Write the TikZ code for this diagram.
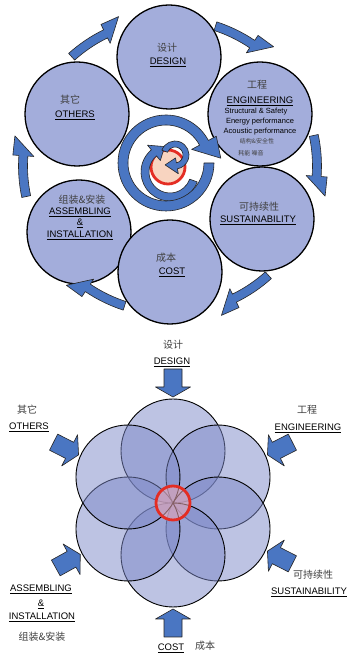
\documentclass[tikz,border=0pt]{standalone}
\usepackage{fontspec}
\setmainfont{Liberation Sans}
\newfontfamily\cjk{Noto Sans CJK SC}
\definecolor{circfill}{RGB}{163,173,219}
\definecolor{arrblue}{RGB}{74,118,194}
\definecolor{flowerfill}{RGB}{125,137,201}
\definecolor{ringred}{RGB}{228,45,35}
\definecolor{peach}{RGB}{248,212,192}
\definecolor{corepink}{RGB}{240,170,180}
\tikzset{
 bigcirc/.style={circle, minimum size=104pt, inner sep=0pt, draw=black, line width=1.3pt, fill=circfill},
 petal/.style={circle, minimum size=104pt, inner sep=0pt, draw=black, line width=0.9pt, fill=flowerfill, fill opacity=0.5},
 arrowshape/.style={fill=arrblue, draw=black!85, line width=0.6pt, line join=round},
 en/.style={font=\fontsize{9.5}{10}\selectfont, inner sep=0pt},
 zh/.style={font=\cjk\fontsize{10}{11}\selectfont, text=black!75, inner sep=0pt},
 smalltxt/.style={font=\fontsize{7.5}{8}\selectfont, inner sep=0pt},
 smallzh/.style={font=\cjk\fontsize{6}{7}\selectfont, text=black!75, inner sep=0pt}
}
% cx cy rc w a1 a2 tipangle tipradius headextra
\newcommand\arcarr[9]{%
\begin{scope}[shift={(#1,#2)}]
\pgfmathsetmacro\arcRo{#3+#4/2}\pgfmathsetmacro\arcRi{#3-#4/2}
\pgfmathsetmacro\arcHo{\arcRo+#9}\pgfmathsetmacro\arcHi{\arcRi-#9}
\path[arrowshape] (#5:\arcRo) arc[start angle=#5, end angle=#6, radius=\arcRo]
  -- (#6:\arcHo) -- (#7:#8) -- (#6:\arcHi) -- (#6:\arcRi)
  arc[start angle=#6, end angle=#5, radius=\arcRi] -- cycle;
\end{scope}}
\begin{document}
\begin{tikzpicture}[x=1pt,y=1pt]
\useasboundingbox (0,0) rectangle (351,657);
\fill[white] (0,0) rectangle (351,657);

% ===== top: cycle =====
\node[bigcirc] (tOthers) at (77,543) {};
\node[bigcirc] (tAssem) at (79,425) {};
\node[bigcirc] (tDesign) at (169,600) {};
\node[bigcirc] (tEng) at (260,543) {};
\node[bigcirc] (tSust) at (262,438) {};
\node[bigcirc] (tCost) at (170,385) {};

% outer curved arrows
\foreach \g in {60,0,-60,-120,180,120}{
  \pgfmathsetmacro\ga{\g+12}\pgfmathsetmacro\gb{\g-4}\pgfmathsetmacro\gt{\g-11}
  \arcarr{170}{491}{147}{9}{\ga}{\gb}{\gt}{158}{6}
}

% central swirl
\node[circle, minimum size=34pt, inner sep=0pt, draw=ringred, line width=2.8pt, fill=peach] (tCore) at (168,490) {};
\arcarr{170}{485}{25}{8}{-20}{-230}{-258}{26}{6}
\arcarr{175}{502}{11}{6}{160}{-80}{-135}{14}{5}
\arcarr{166}{494}{43}{10}{0}{-332}{-355}{55}{9}

% top labels
\node[zh] (tDesignZh) at (167,609) {设计};
\node[en] (tDesignEn) at (168,595) {\underline{DESIGN}};
\node[zh] (tEngZh) at (257,572) {工程};
\node[en] (tEngEn) at (260,556) {\underline{ENGINEERING}};
\node[smalltxt] (tEng1) at (256,545) {Structural \& Safety};
\node[smalltxt] (tEng2) at (260,535) {Energy performance};
\node[smalltxt] (tEng3) at (260,525) {Acoustic performance};
\node[smallzh] (tEng4) at (257,516) {结构\&安全性};
\node[smallzh] (tEng5) at (251,504) {耗能 噪音};
\node[zh] (tSustZh) at (259,450) {可持续性};
\node[en] (tSustEn) at (258,437) {\underline{SUSTAINABILITY}};
\node[zh] (tCostZh) at (166,399) {成本};
\node[en] (tCostEn) at (172,385) {\underline{COST}};
\node[zh] (tAssemZh) at (82,457) {组装\&安装};
\node[en] (tAssemEn1) at (80,445) {\underline{ASSEMBLING}};
\node[en] (tAssemEn2) at (80,434) {\underline{\&}};
\node[en] (tAssemEn3) at (80,422) {\underline{INSTALLATION}};
\node[zh] (tOthersZh) at (70,557) {其它};
\node[en] (tOthersEn) at (75,542) {\underline{OTHERS}};

% ===== bottom: flower =====
\coordinate (F) at (173,154);
\foreach \a/\n in {90/a,30/b,-30/c,-90/d,-150/e,150/f}
  \node[petal] (p\n) at ([shift={(\a:52)}]F) {};
\node[circle, minimum size=34pt, inner sep=0pt, draw=ringred, line width=2.8pt, fill=corepink, fill opacity=0.55] (bCore) at (F) {};

\foreach \a in {90,27,-27,-90,-151,153}{
  \begin{scope}[shift={(173,154)}, rotate=\a]
  \path[arrowshape] (134,9) -- (116,9) -- (116,17.5) -- (106,0) -- (116,-17.5) -- (116,-9) -- (134,-9) -- cycle;
  \end{scope}
}

\node[zh] (bDesignZh) at (173,312) {设计};
\node[en] (bDesignEn) at (172,295) {\underline{DESIGN}};
\node[zh] (bOthersZh) at (27,247) {其它};
\node[en] (bOthersEn) at (29,230) {\underline{OTHERS}};
\node[zh] (bEngZh) at (307,247) {工程};
\node[en] (bEngEn) at (308,229) {\underline{ENGINEERING}};
\node[zh] (bSustZh) at (313,82) {可持续性};
\node[en] (bSustEn) at (309,65) {\underline{SUSTAINABILITY}};
\node[en] (bAssemEn1) at (41,68) {\underline{ASSEMBLING}};
\node[en] (bAssemEn2) at (41,53) {\underline{\&}};
\node[en] (bAssemEn3) at (42,40) {\underline{INSTALLATION}};
\node[zh] (bAssemZh) at (42,20) {组装\&安装};
\node[en] (bCostEn) at (171,9) {\underline{COST}};
\node[zh] (bCostZh) at (205,11) {成本};
\end{tikzpicture}
\end{document}
